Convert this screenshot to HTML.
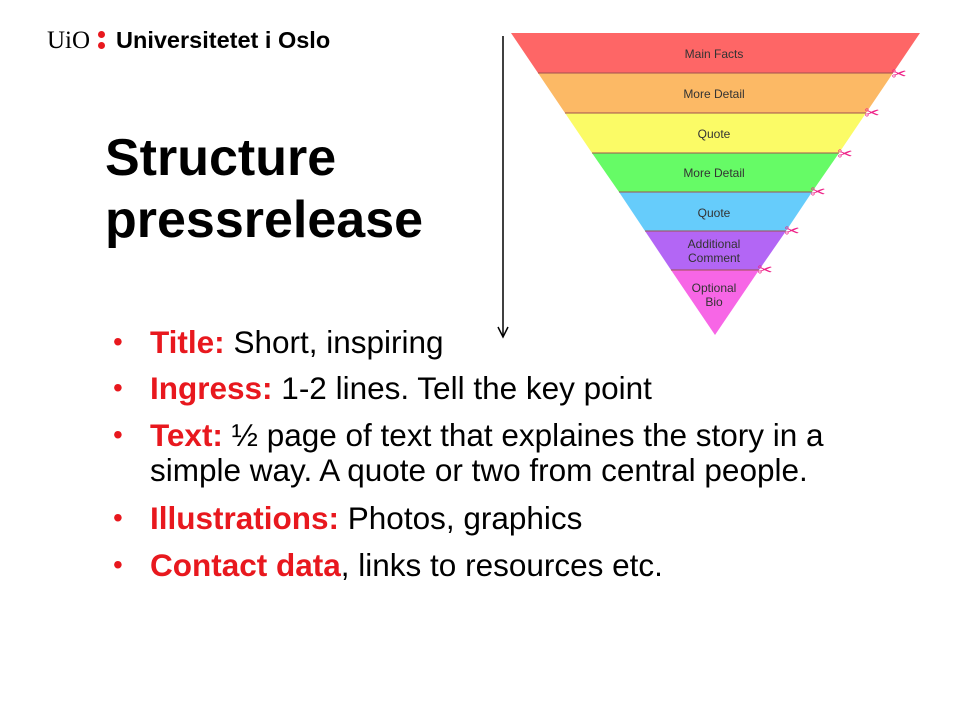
<!DOCTYPE html>
<html><head><meta charset="utf-8"><style>
body{margin:0;width:960px;height:720px;background:#fff;position:relative;overflow:hidden;font-family:"Liberation Sans",sans-serif}
.t{position:absolute;white-space:nowrap}
.r{color:#e8181e;font-weight:bold}
.b{position:absolute;left:113px;color:#e8181e;font-size:28px;line-height:32px}
.l{position:absolute;left:150px;font-size:31.5px;line-height:32px;color:#000;white-space:nowrap}
</style></head><body>
<div class="t" style="left:47px;top:27px;font-size:25px;font-family:'Liberation Serif',serif">UiO</div>
<div class="t" style="left:98px;top:31px;width:7px;height:7px;border-radius:50%;background:#e8181e"></div>
<div class="t" style="left:98px;top:42px;width:7px;height:7px;border-radius:50%;background:#e8181e"></div>
<div class="t" style="left:116px;top:27px;font-size:23.5px;font-weight:bold">Universitetet i Oslo</div>
<div class="t" style="left:105px;top:127px;font-size:52px;font-weight:bold;line-height:62px">Structure<br>pressrelease</div>

<svg style="position:absolute;left:0;top:0" width="960" height="720">
<g font-family="Liberation Sans,sans-serif" font-size="12" text-anchor="middle" fill="#333">
<polygon points="511,33 920,33 893,73 538,73" fill="#fe6666"/>
<polygon points="538,73 893,73 866,113 565,113" fill="#fcb965"/>
<polygon points="565,113 866,113 839,153 592,153" fill="#fbfb66"/>
<polygon points="592,153 839,153 812,192 619,192" fill="#66fb66"/>
<polygon points="619,192 812,192 786,231 645,231" fill="#66ccfb"/>
<polygon points="645,231 786,231 759,270 671,270" fill="#b366f5"/>
<polygon points="671,270 759,270 715,335" fill="#f766e6"/>
<g stroke="#a05050" stroke-width="1"><line x1="538" y1="73" x2="893" y2="73"/><line x1="565" y1="113" x2="866" y2="113"/><line x1="592" y1="153" x2="839" y2="153"/><line x1="619" y1="192" x2="812" y2="192"/><line x1="645" y1="231" x2="786" y2="231"/><line x1="671" y1="270" x2="759" y2="270"/></g>
<text x="714" y="58">Main Facts</text>
<text x="714" y="98">More Detail</text>
<text x="714" y="138">Quote</text>
<text x="714" y="177">More Detail</text>
<text x="714" y="217">Quote</text>
<text x="714" y="248">Additional</text><text x="714" y="262">Comment</text>
<text x="714" y="292">Optional</text><text x="714" y="306">Bio</text>
<g fill="#ee2288" font-size="18"><text x="899" y="80">✂</text><text x="872" y="119">✂</text><text x="845" y="160">✂</text><text x="818" y="198">✂</text><text x="792" y="237">✂</text><text x="765" y="276">✂</text></g>
</g>
<line x1="503" y1="36" x2="503" y2="336" stroke="#000" stroke-width="1.5"/>
<polyline points="498,327 503,337 508,327" fill="none" stroke="#000" stroke-width="1.5"/>
</svg>

<div class="b" style="top:326px">•</div><div class="l" style="top:326px"><span class="r">Title:</span> Short, inspiring</div>
<div class="b" style="top:372px">•</div><div class="l" style="top:372px"><span class="r">Ingress:</span> 1-2 lines. Tell the key point</div>
<div class="b" style="top:419px">•</div><div class="l" style="top:419px"><span class="r">Text:</span> ½ page of text that explaines the story in a</div>
<div class="l" style="top:454px">simple way. A quote or two from central people.</div>
<div class="b" style="top:502px">•</div><div class="l" style="top:502px"><span class="r">Illustrations:</span> Photos, graphics</div>
<div class="b" style="top:549px">•</div><div class="l" style="top:549px"><span class="r">Contact data</span>, links to resources etc.</div>
</body></html>
